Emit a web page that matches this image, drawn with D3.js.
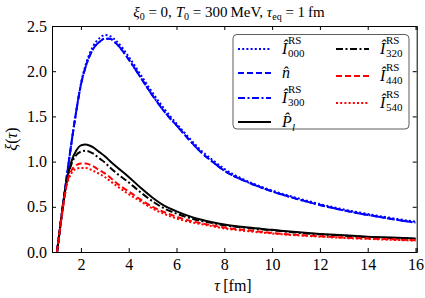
<!DOCTYPE html>
<html>
<head>
<meta charset="utf-8">
<script src="https://cdn.jsdelivr.net/npm/d3@7"></script>
<style>
  body { margin: 0; background: #fff; }
  svg text { font-family: "Liberation Serif", "Times New Roman", "DejaVu Serif", serif; }
</style>
</head>
<body>
<div id="chart"></div>
<script>
// tau grid (fm) used by every curve
var tau = [1.0, 1.2, 1.4, 1.6, 1.8, 2.0, 2.2, 2.5, 2.8, 3.0, 3.2, 3.5, 4.0, 4.5, 5.0, 5.5, 6.0, 6.5, 7.0, 7.5, 8.0, 9.0, 10.0, 11.0, 12.0, 13.0, 14.0, 15.0, 16.0];

// blue family
var i000 = [0, 0.42, 0.82, 1.20, 1.55, 1.86, 2.07, 2.27, 2.37, 2.40, 2.39, 2.33, 2.16, 1.96, 1.76, 1.58, 1.42, 1.27, 1.13, 1.02, 0.92, 0.78, 0.68, 0.60, 0.53, 0.47, 0.42, 0.375, 0.335];
var nHat = [0, 0.42, 0.82, 1.20, 1.55, 1.85, 2.05, 2.24, 2.33, 2.36, 2.36, 2.30, 2.13, 1.93, 1.73, 1.55, 1.40, 1.25, 1.11, 1.00, 0.90, 0.77, 0.67, 0.59, 0.52, 0.46, 0.41, 0.365, 0.325];
var i300 = [0, 0.42, 0.82, 1.20, 1.55, 1.85, 2.05, 2.24, 2.33, 2.36, 2.36, 2.30, 2.13, 1.93, 1.73, 1.55, 1.40, 1.25, 1.11, 1.00, 0.90, 0.77, 0.67, 0.59, 0.52, 0.46, 0.41, 0.365, 0.325];
// black and red family
var pl   = [0, 0.42, 0.78, 1.00, 1.12, 1.18, 1.19, 1.16, 1.10, 1.06, 1.01, 0.94, 0.83, 0.71, 0.60, 0.51, 0.45, 0.40, 0.36, 0.33, 0.305, 0.27, 0.245, 0.22, 0.20, 0.185, 0.17, 0.16, 0.15];
var i320 = [0, 0.42, 0.77, 0.97, 1.07, 1.11, 1.12, 1.09, 1.03, 0.99, 0.94, 0.87, 0.77, 0.66, 0.56, 0.48, 0.425, 0.38, 0.345, 0.32, 0.295, 0.265, 0.24, 0.215, 0.195, 0.18, 0.165, 0.155, 0.145];
var i440 = [0, 0.40, 0.74, 0.90, 0.96, 0.98, 0.98, 0.95, 0.90, 0.87, 0.83, 0.76, 0.67, 0.58, 0.50, 0.44, 0.39, 0.35, 0.32, 0.295, 0.27, 0.24, 0.21, 0.19, 0.175, 0.16, 0.15, 0.14, 0.13];
var i540 = [0, 0.40, 0.73, 0.87, 0.92, 0.93, 0.93, 0.90, 0.86, 0.83, 0.79, 0.73, 0.64, 0.56, 0.48, 0.42, 0.37, 0.335, 0.31, 0.285, 0.26, 0.23, 0.205, 0.185, 0.17, 0.155, 0.145, 0.135, 0.125];

var xTicks = [2, 4, 6, 8, 10, 12, 14, 16];
var yTicks = [0.0, 0.5, 1.0, 1.5, 2.0, 2.5];

var series = [
  {values: i000, color: "#0000ff", dash: "2,2.2",       name: "I", sup: "RS", sub: "000", col: 0, row: 0},
  {values: nHat, color: "#0000ff", dash: "6,3",         name: "n", col: 0, row: 1},
  {values: i300, color: "#0000ff", dash: "7,2.5,2,2.5", name: "I", sup: "RS", sub: "300", col: 0, row: 2},
  {values: pl,   color: "#000000", dash: null,          name: "P", sub: "l", col: 0, row: 3},
  {values: i320, color: "#000000", dash: "7,2.5,2,2.5", name: "I", sup: "RS", sub: "320", col: 1, row: 0},
  {values: i440, color: "#ff0000", dash: "6,3",         name: "I", sup: "RS", sub: "440", col: 1, row: 1},
  {values: i540, color: "#ff0000", dash: "2,2.2",       name: "I", sup: "RS", sub: "540", col: 1, row: 2}
];

var SERIF = "'Liberation Serif', 'Times New Roman', 'DejaVu Serif', serif";
var width = 425, height = 298;
var margin = {left: 52, right: 8.3, top: 26, bottom: 46};

var svg = d3.select("#chart").append("svg")
  .attr("width", width).attr("height", height);

var x = d3.scaleLinear().domain([0.79, 16.05]).range([margin.left, width - margin.right]);
var y = d3.scaleLinear().domain([0, 2.5]).range([height - margin.bottom, margin.top]);

svg.append("clipPath").attr("id", "clip").append("rect")
  .attr("x", margin.left).attr("y", margin.top)
  .attr("width", width - margin.left - margin.right)
  .attr("height", height - margin.top - margin.bottom);

var line = d3.line()
  .x(function(d) { return x(d[0]); })
  .y(function(d) { return y(d[1]); })
  .curve(d3.curveMonotoneX);

var plot = svg.append("g").attr("clip-path", "url(#clip)");
series.forEach(function(s) {
  plot.append("path")
    .datum(tau.map(function(t, i) { return [t, s.values[i]]; }))
    .attr("fill", "none")
    .attr("stroke", s.color)
    .attr("stroke-width", 2)
    .attr("stroke-dasharray", s.dash)
    .attr("d", line);
});

// axes, ticks pointing inwards on all four sides
var bottom = height - margin.bottom, right = width - margin.right;
svg.append("g").attr("transform", "translate(0," + bottom + ")")
  .call(d3.axisBottom(x).tickValues(xTicks).tickSize(-4).tickPadding(7).tickFormat(d3.format("d")));
svg.append("g").attr("transform", "translate(0," + margin.top + ")")
  .call(d3.axisTop(x).tickValues(xTicks).tickSize(-4).tickFormat(""));
svg.append("g").attr("transform", "translate(" + margin.left + ",0)")
  .call(d3.axisLeft(y).tickValues(yTicks).tickSize(-4).tickPadding(5).tickFormat(d3.format(".1f")));
svg.append("g").attr("transform", "translate(" + right + ",0)")
  .call(d3.axisRight(y).tickValues(yTicks).tickSize(-4).tickFormat(""));

svg.selectAll(".domain").attr("stroke", "#000").attr("stroke-width", 1);
svg.selectAll(".tick line").attr("stroke", "#000");
svg.selectAll(".tick text").attr("font-size", 16).attr("fill", "#000")
  .attr("font-family", SERIF).style("font-family", SERIF);

// title
var title = svg.append("text").attr("x", 229).attr("y", 17)
  .attr("text-anchor", "middle").attr("font-size", 15);
title.append("tspan").attr("font-style", "italic").text("ξ");
title.append("tspan").attr("font-size", 10).attr("dy", 3).text("0");
title.append("tspan").attr("dy", -3).text(" = 0,  ");
title.append("tspan").attr("font-style", "italic").text("T");
title.append("tspan").attr("font-size", 10).attr("dy", 3).text("0");
title.append("tspan").attr("dy", -3).text(" = 300\u2009MeV,  ");
title.append("tspan").attr("font-style", "italic").text("τ");
title.append("tspan").attr("font-size", 10).attr("dy", 3).text("eq");
title.append("tspan").attr("dy", -3).text(" = 1\u2009fm");

// axis labels
var xl = svg.append("text").attr("x", 233).attr("y", 291)
  .attr("text-anchor", "middle").attr("font-size", 16);
xl.append("tspan").attr("font-style", "italic").text("τ");
xl.append("tspan").text("\u2009[fm]");

var yl = svg.append("text")
  .attr("transform", "translate(17," + y(1.25) + ") rotate(-90)")
  .attr("text-anchor", "middle").attr("font-size", 16);
yl.append("tspan").attr("font-style", "italic").text("ξ");
yl.append("tspan").text("(");
yl.append("tspan").attr("font-style", "italic").text("τ");
yl.append("tspan").text(")");

// legend
var legend = svg.append("g");
legend.append("rect")
  .attr("x", 233).attr("y", 34.5).attr("width", 176).attr("height", 94.5)
  .attr("rx", 4).attr("fill", "#fff").attr("stroke", "#333").attr("stroke-width", 0.8);

var colX = [238, 336];
var rowY = [[49, 73, 98, 122], [49, 76, 103]];

series.forEach(function(s) {
  var lx = colX[s.col], ly = rowY[s.col][s.row];
  legend.append("line")
    .attr("x1", lx).attr("x2", lx + 33).attr("y1", ly).attr("y2", ly)
    .attr("stroke", s.color).attr("stroke-width", 2)
    .attr("stroke-dasharray", s.dash);
  var tx = lx + 44;
  legend.append("text").attr("x", tx).attr("y", ly + 5).attr("font-size", 16)
    .attr("font-style", "italic").text(s.name + "\u0302");
  if (s.sup) {
    legend.append("text").attr("x", tx + 6).attr("y", ly - 5).attr("font-size", 11).text(s.sup);
    legend.append("text").attr("x", tx + 6).attr("y", ly + 8).attr("font-size", 11).text(s.sub);
  } else if (s.sub) {
    legend.append("text").attr("x", tx + 10).attr("y", ly + 9).attr("font-size", 11)
      .attr("font-style", "italic").text(s.sub);
  }
});
</script>
</body>
</html>
